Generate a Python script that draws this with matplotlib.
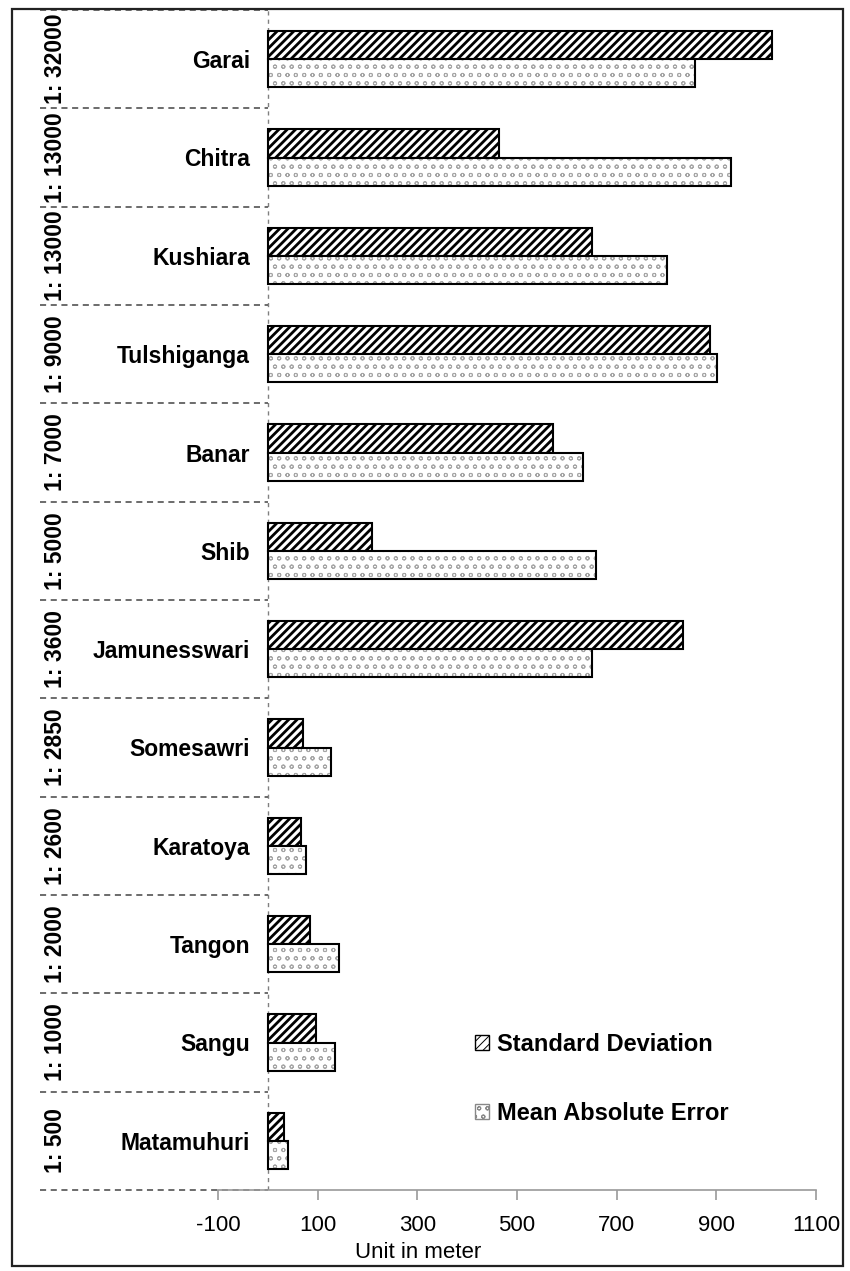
import matplotlib
matplotlib.use("Agg")
import matplotlib.pyplot as plt
from matplotlib.patches import Patch, Rectangle
import matplotlib.transforms as mtransforms

rivers = ["Garai", "Chitra", "Kushiara", "Tulshiganga", "Banar", "Shib",
          "Jamunesswari", "Somesawri", "Karatoya", "Tangon", "Sangu", "Matamuhuri"]
scales = ["1: 32000", "1: 13000", "1: 13000", "1: 9000", "1: 7000", "1: 5000",
          "1: 3600", "1: 2850", "1: 2600", "1: 2000", "1: 1000", "1: 500"]
std_dev = [1012, 464, 651, 887, 572, 209, 833, 70, 67, 84, 96, 32]
mae = [857, 929, 800, 901, 633, 659, 651, 126, 77, 142, 135, 40]
xticks = [-100, 100, 300, 500, 700, 900, 1100]

plt.rcParams['font.family'] = ['Liberation Sans', 'DejaVu Sans']

W, H = 850, 1271
fig = plt.figure(figsize=(W / 100, H / 100), dpi=100)
ax = fig.add_axes([218 / W, 1 - 1190 / H, (816 - 218) / W, (1190 - 10) / H])

n = len(rivers)
pos = list(range(n))
bh = 0.288

ax.set_xlim(-100, 1100)
ax.set_ylim(n - 0.5, -0.5)

# zero line (dashed)
ax.axvline(0, color='#808080', lw=1.0, ls=(0, (3, 3)), zorder=1)

plt.rcParams['hatch.linewidth'] = 2.0
plt.rcParams['hatch.color'] = 'black'
sd_bars = ax.barh([p - bh / 2 for p in pos], std_dev, height=bh, color='white',
                  edgecolor='black', hatch='////', linewidth=1.5, zorder=3)
for b in sd_bars:
    if hasattr(b, 'set_hatch_linewidth'):
        b.set_hatch_linewidth(2.0)

plt.rcParams['hatch.linewidth'] = 0.7
mae_fill = ax.barh([p + bh / 2 for p in pos], mae, height=bh, color='white',
                   edgecolor='#a6a6a6', hatch='oo', linewidth=0, zorder=3)
for b in mae_fill:
    if hasattr(b, 'set_hatch_linewidth'):
        b.set_hatch_linewidth(0.7)
ax.barh([p + bh / 2 for p in pos], mae, height=bh, color='none',
        edgecolor='black', linewidth=1.5, zorder=4)

# axes styling
for s in ['top', 'right']:
    ax.spines[s].set_visible(False)
ax.spines['left'].set_position(('data', 0))
ax.spines['left'].set_visible(False)
ax.spines['bottom'].set_color('#9a9a9a')
ax.spines['bottom'].set_linewidth(1.2)

ax.set_xticks(xticks)
ax.set_xticklabels([str(v) for v in xticks], fontsize=16)
ax.tick_params(axis='x', direction='out', length=7, width=1.2, color='#9a9a9a', pad=11)
ax.set_yticks(pos)
ax.set_yticklabels(rivers, fontsize=16.5, fontweight='bold')
ax.tick_params(axis='y', length=0, pad=13)

# x label
fig.text(418 / W, 1 - 1252 / H, "Unit in meter", fontsize=16, ha='center', va='center')

# category separators and scale labels
blend = mtransforms.blended_transform_factory(fig.transFigure, ax.transData)
for i in range(n + 1):
    y = i - 0.5
    ax.plot([40 / W, 268 / W], [y, y], transform=blend, color='#444444',
            lw=1.1, ls=(0, (4, 3)), clip_on=False, zorder=2)
for i, s in enumerate(scales):
    ax.text(55 / W, pos[i], s, transform=blend, rotation=90, ha='center', va='center',
            fontsize=16.5, fontweight='bold', clip_on=False)

# legend
handles = [Patch(facecolor='white', edgecolor='black', hatch='////', linewidth=1.0,
                 label='Standard Deviation'),
           Patch(facecolor='white', edgecolor='#888888', hatch='oo', linewidth=1.0,
                 label='Mean Absolute Error')]
leg = fig.legend(handles=handles, loc='upper left', bbox_to_anchor=(475 / W, 1 - 1033 / H),
                 frameon=False, prop={'size': 17, 'weight': 'bold'},
                 handlelength=0.6, handleheight=0.6, handletextpad=0.35,
                 labelspacing=1.95, borderpad=0, borderaxespad=0)

# outer frame
fig.patches.append(Rectangle((12 / W, 1 - 1266 / H), (843 - 12) / W, (1266 - 9) / H,
                             transform=fig.transFigure, fill=False, edgecolor='#222222',
                             linewidth=1.6, zorder=10))

fig.savefig("out.png", dpi=100)
